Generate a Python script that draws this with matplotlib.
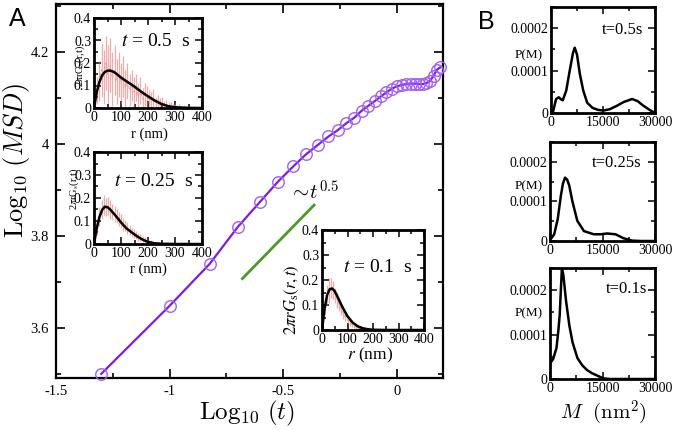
import numpy as np
import matplotlib
matplotlib.use('Agg')
import matplotlib.pyplot as plt
from matplotlib.ticker import MultipleLocator, FuncFormatter

plt.rcParams['font.family'] = ['Liberation Serif', 'DejaVu Serif']
plt.rcParams['mathtext.fontset'] = 'stix'
plt.rcParams['axes.unicode_minus'] = False

W, H = 677, 430

# ---------------- Panel A: main MSD curve ----------------
t_sec = [0.05, 0.10, 0.15, 0.20, 0.25, 0.30, 0.35, 0.40, 0.45, 0.50,
         0.55, 0.60, 0.65, 0.70, 0.75, 0.80, 0.85, 0.90, 0.95, 1.00,
         1.05, 1.10, 1.15, 1.20, 1.25, 1.30, 1.35, 1.40, 1.45, 1.50, 1.55]
log_msd = [3.500, 3.648, 3.739, 3.820, 3.874, 3.918, 3.951, 3.978, 3.998, 4.016,
           4.030, 4.045, 4.057, 4.072, 4.083, 4.093, 4.103, 4.112, 4.120, 4.125,
           4.128, 4.130, 4.131, 4.131, 4.130, 4.130, 4.132, 4.137, 4.148, 4.161, 4.166]
guide_log_t = [-0.680, -0.364]
guide_log_msd = [3.707, 3.867]

# ---------------- Panel A insets: 2*pi*r*Gs(r,t) ----------------
fit_r_05 = [0, 10, 20, 30, 40, 50, 60, 70, 80, 100, 125, 150, 175, 200, 225, 250, 275, 300, 350, 400]
fit_g_05 = [0, 0.070, 0.115, 0.145, 0.160, 0.166, 0.166, 0.162, 0.155, 0.135, 0.115, 0.095,
            0.072, 0.052, 0.033, 0.018, 0.008, 0.003, 0.0005, 0]
hist_r_05 = [4, 12, 20, 28, 36, 44, 52, 60, 68, 76, 84, 92, 100, 108, 116, 124, 132, 140, 148,
             156, 164, 172, 180, 188, 196, 204, 212, 220, 228, 236, 244, 252, 260, 268, 276,
             284, 292, 300, 308, 316, 324, 332, 340, 348, 356]
hist_g_05 = [0.03, 0.08, 0.12, 0.17, 0.14, 0.20, 0.15, 0.19, 0.13, 0.17, 0.12, 0.15, 0.11, 0.14,
             0.09, 0.12, 0.08, 0.10, 0.07, 0.09, 0.05, 0.08, 0.04, 0.06, 0.05, 0.04, 0.03, 0.045,
             0.02, 0.03, 0.015, 0.025, 0.01, 0.015, 0.008, 0.012, 0.005, 0.01, 0.004, 0.008,
             0.003, 0.006, 0.002, 0.004, 0.001]
hist_e_05 = [0.03, 0.06, 0.09, 0.12, 0.12, 0.12, 0.13, 0.12, 0.12, 0.11, 0.10, 0.10, 0.09, 0.09,
             0.08, 0.08, 0.07, 0.07, 0.07, 0.06, 0.06, 0.06, 0.05, 0.05, 0.05, 0.04, 0.04, 0.04,
             0.03, 0.03, 0.03, 0.025, 0.02, 0.02, 0.02, 0.015, 0.015, 0.012, 0.01, 0.01, 0.008,
             0.008, 0.006, 0.006, 0.004]

fit_r_025 = [0, 10, 20, 30, 40, 50, 60, 80, 100, 120, 140, 160, 180, 200, 225, 250, 300, 400]
fit_g_025 = [0, 0.068, 0.117, 0.148, 0.162, 0.160, 0.150, 0.123, 0.094, 0.068, 0.050, 0.033,
             0.019, 0.009, 0.003, 0.001, 0, 0]
hist_r_025 = [4, 12, 20, 28, 36, 44, 52, 60, 68, 76, 84, 92, 100, 108, 116, 124, 132, 140, 148,
              156, 164, 172, 180, 188, 196, 204, 212, 220, 228, 236, 244, 252, 260, 268, 276]
hist_g_025 = [0.02, 0.07, 0.12, 0.15, 0.17, 0.16, 0.165, 0.15, 0.14, 0.13, 0.12, 0.11, 0.10,
              0.085, 0.08, 0.07, 0.06, 0.05, 0.045, 0.04, 0.03, 0.028, 0.02, 0.018, 0.012, 0.01,
              0.008, 0.006, 0.004, 0.003, 0.002, 0.002, 0.001, 0.001, 0.0005]
hist_e_025 = [0.02, 0.03, 0.04, 0.04, 0.045, 0.04, 0.04, 0.04, 0.035, 0.035, 0.03, 0.03, 0.03,
              0.028, 0.025, 0.025, 0.022, 0.02, 0.02, 0.018, 0.016, 0.015, 0.013, 0.012, 0.01,
              0.009, 0.008, 0.007, 0.006, 0.005, 0.004, 0.003, 0.003, 0.002, 0.002]

fit_r_01 = [0, 10, 20, 30, 40, 50, 60, 80, 100, 120, 140, 160, 180, 200, 250, 400]
fit_g_01 = [0, 0.085, 0.140, 0.163, 0.166, 0.155, 0.135, 0.092, 0.055, 0.030, 0.015, 0.007,
            0.003, 0.001, 0, 0]
hist_r_01 = [4, 12, 20, 28, 36, 44, 52, 60, 68, 76, 84, 92, 100, 108, 116, 124, 132, 140, 148,
             156, 164, 172, 180, 188, 196]
hist_g_01 = [0.03, 0.09, 0.14, 0.16, 0.17, 0.16, 0.14, 0.12, 0.10, 0.08, 0.065, 0.05, 0.04,
             0.03, 0.022, 0.016, 0.012, 0.008, 0.005, 0.004, 0.003, 0.002, 0.001, 0.001, 0.0005]
hist_e_01 = [0.02, 0.03, 0.04, 0.05, 0.04, 0.035, 0.03, 0.03, 0.025, 0.02, 0.02, 0.015, 0.015,
             0.012, 0.01, 0.008, 0.006, 0.005, 0.004, 0.003, 0.002, 0.002, 0.001, 0.001, 0.001]

# ---------------- Panel B: P(M) ----------------
m_05 = [0, 500, 1470, 2250, 2930, 3400, 4400, 5400, 6350, 6840, 7500, 8300, 9300, 10450,
        12000, 13500, 15100, 17000, 19000, 21000, 23400, 25000, 26500, 28300, 30000]
p_05 = [0, 0, 3.3e-5, 3.7e-5, 3.2e-5, 3.0e-5, 5.3e-5, 1.0e-4, 1.42e-4, 1.54e-4, 1.38e-4,
        9.3e-5, 5.3e-5, 2.4e-5, 1.2e-5, 7.5e-6, 5.7e-6, 9e-6, 1.7e-5, 2.6e-5, 3.3e-5, 2.8e-5,
        1.8e-5, 8e-6, 0]
m_025 = [0, 300, 1200, 2200, 3100, 3700, 4300, 4900, 5500, 6400, 7800, 9700, 12500, 14500,
         16300, 18700, 21000, 23400, 26000, 30000]
p_025 = [3e-6, 6e-6, 1.7e-5, 5.5e-5, 1.14e-4, 1.45e-4, 1.60e-4, 1.55e-4, 1.40e-4, 1.0e-4,
         5.1e-5, 2.5e-5, 1.7e-5, 1.7e-5, 1.9e-5, 1.7e-5, 7e-6, 1e-6, 0, 0]
m_01 = [0, 900, 1850, 2400, 2770, 3100, 3400, 3800, 4600, 5540, 6460, 7850, 9200, 10600,
        12000, 13400, 15200, 17000, 30000]
p_01 = [3.5e-5, 4.5e-5, 7e-5, 1.1e-4, 1.44e-4, 2.0e-4, 2.5e-4, 2.35e-4, 1.75e-4, 1.2e-4,
        8.2e-5, 4.7e-5, 3.1e-5, 2.0e-5, 1.3e-5, 8e-6, 1.5e-6, 0, 0]


def box(l, t, r, b):
    return [l / W, 1 - b / H, (r - l) / W, (b - t) / H]


def fx(x):
    return x / W


def fy(y):
    return 1 - y / H


fig = plt.figure(figsize=(W / 100, H / 100), dpi=100)

# ---------- main axes ----------
ax = fig.add_axes(box(56, 4, 443, 378))
ax.plot(np.log10(t_sec), log_msd, '-', color='#7A1FE0', lw=1.6, zorder=3)
ax.plot(np.log10(t_sec), log_msd, 'o', mfc='none', mec='#A060F0', mew=1.0, ms=8.3,
        zorder=4, clip_on=False)
ax.plot(guide_log_t, guide_log_msd, '-', color='#4A9A2A', lw=2.0)
ax.text(-0.475, 3.878, r'$\sim\!t^{0.5}$', fontsize=15, math_fontfamily='cm')
ax.set_xlim(-1.5, 0.203)
ax.set_ylim(3.491, 4.304)
ax.xaxis.set_major_locator(MultipleLocator(0.5))
ax.xaxis.set_minor_locator(MultipleLocator(0.25))
ax.yaxis.set_major_locator(MultipleLocator(0.2))
ax.yaxis.set_minor_locator(MultipleLocator(0.1))
fmt = FuncFormatter(lambda v, p: f'{round(v, 2):g}')
ax.xaxis.set_major_formatter(fmt)
ax.yaxis.set_major_formatter(fmt)
ax.tick_params(which='both', direction='in', top=True, right=True, width=1.2,
               labelsize=10.5)
ax.tick_params(which='major', length=6.5, pad=5)
ax.tick_params(which='minor', length=3.5)
for s in ax.spines.values():
    s.set_linewidth(1.6)

fig.text(fx(17), fy(160), r'$\mathrm{Log}_{10}\ (MSD)$', rotation=90, ha='center',
         va='center', fontsize=19, math_fontfamily='cm')
fig.text(fx(247), fy(413), r'$\mathrm{Log}_{10}\ (t)$', ha='center', va='center',
         fontsize=18, math_fontfamily='cm')
fig.text(fx(17), fy(19), 'A', ha='center', va='center', fontsize=18,
         family=['Liberation Sans', 'DejaVu Sans'])
fig.text(fx(486), fy(22), 'B', ha='center', va='center', fontsize=18,
         family=['Liberation Sans', 'DejaVu Sans'])

gfmt = FuncFormatter(lambda v, p: '0' if abs(v) < 1e-9 else f'{round(v, 3):g}')


def inset(rect, hr, hg, he, fr, fg):
    a = fig.add_axes(rect)
    lower = [min(e, g) for e, g in zip(he, hg)]
    a.errorbar(hr, hg, yerr=[lower, he], fmt='none', ecolor='#E06868', elinewidth=0.9,
               alpha=0.55, zorder=2)
    a.plot(hr, hg, '--', color='#F0A0A0', lw=0.7, zorder=2)
    a.plot(fr, fg, '-', color='black', lw=1.8, zorder=3)
    a.set_xlim(0, 400)
    a.set_ylim(0, 0.4)
    a.xaxis.set_major_locator(MultipleLocator(100))
    a.xaxis.set_minor_locator(MultipleLocator(50))
    a.yaxis.set_major_locator(MultipleLocator(0.1))
    a.yaxis.set_minor_locator(MultipleLocator(0.05))
    a.xaxis.set_major_formatter(gfmt)
    a.yaxis.set_major_formatter(gfmt)
    a.tick_params(which='both', direction='in', top=True, right=True, width=1.1,
                  labelsize=10, pad=2)
    a.tick_params(which='major', length=5)
    a.tick_params(which='minor', length=3)
    for s in a.spines.values():
        s.set_linewidth(2.0)
    return a


a1 = inset(box(94, 18, 202, 108), hist_r_05, hist_g_05, hist_e_05, fit_r_05, fit_g_05)
a2 = inset(box(94, 152, 202, 244), hist_r_025, hist_g_025, hist_e_025, fit_r_025, fit_g_025)
a3 = inset(box(322, 230, 424, 330), hist_r_01, hist_g_01, hist_e_01, fit_r_01, fit_g_01)

fig.text(fx(156), fy(41), r'$t$ = 0.5  s', ha='center', va='center', fontsize=14)
fig.text(fx(154), fy(181), r'$t$ = 0.25  s', ha='center', va='center', fontsize=14)
fig.text(fx(378), fy(267), r'$t$ = 0.1  s', ha='center', va='center', fontsize=14)

fig.text(fx(80), fy(66), r'2$\pi$rG$_{\rm s}$(r,t)', rotation=90, ha='center', va='center',
         fontsize=7.5)
fig.text(fx(74), fy(189), r'2$\pi$rG$_{\rm s}$(r,t)', rotation=90, ha='center', va='center',
         fontsize=7.5)
fig.text(fx(292), fy(300), r'$2\pi rG_{\rm s}(r,t)$', rotation=90, ha='center',
         va='center', fontsize=12)
fig.text(fx(149), fy(134), 'r (nm)', ha='center', va='center', fontsize=10.5)
fig.text(fx(148), fy(269), 'r (nm)', ha='center', va='center', fontsize=10.5)
fig.text(fx(370), fy(355), r'$r$ (nm)', ha='center', va='center', fontsize=12.5)

# ---------- panel B ----------
pfmt = FuncFormatter(lambda v, p: '0' if abs(v) < 1e-12 else f'{v:.4f}')
mfmt = FuncFormatter(lambda v, p: f'{int(round(v))}')


def bpanel(rect, m, p):
    b = fig.add_axes(rect)
    b.plot(m, p, '-', color='black', lw=1.8)
    b.set_xlim(0, 30000)
    b.set_ylim(0, 0.00025)
    b.xaxis.set_major_locator(MultipleLocator(15000))
    b.xaxis.set_minor_locator(MultipleLocator(7500))
    b.yaxis.set_major_locator(MultipleLocator(0.0001))
    b.yaxis.set_minor_locator(MultipleLocator(0.00005))
    b.xaxis.set_major_formatter(mfmt)
    b.yaxis.set_major_formatter(pfmt)
    b.tick_params(which='both', direction='in', top=True, right=True, width=1.1,
                  labelsize=10, pad=2)
    b.tick_params(which='major', length=5)
    b.tick_params(which='minor', length=3)
    for s in b.spines.values():
        s.set_linewidth(2.0)
    return b


b1 = bpanel(box(551, 7, 655, 113), m_05, p_05)
b2 = bpanel(box(550, 142, 655, 241), m_025, p_025)
b3 = bpanel(box(550, 268, 655, 379), m_01, p_01)

fig.text(fx(643), fy(30), 't=0.5s', ha='right', va='center', fontsize=12)
fig.text(fx(642), fy(163), 't=0.25s', ha='right', va='center', fontsize=12)
fig.text(fx(647), fy(289), 't=0.1s', ha='right', va='center', fontsize=12)
fig.text(fx(543), fy(55), 'P(M)', ha='right', va='center', fontsize=9.5)
fig.text(fx(543), fy(186), 'P(M)', ha='right', va='center', fontsize=9.5)
fig.text(fx(543), fy(313), 'P(M)', ha='right', va='center', fontsize=9.5)
fig.text(fx(603), fy(413), r'$M\ \ (\mathrm{nm}^2)$', ha='center', va='center', fontsize=15,
         math_fontfamily='cm')

fig.savefig('out.png', dpi=100)
